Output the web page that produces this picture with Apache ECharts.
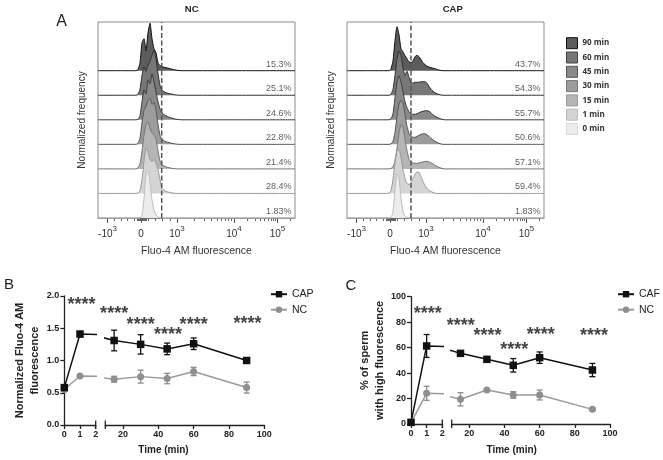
<!DOCTYPE html>
<html><head><meta charset="utf-8">
<script src="https://cdn.jsdelivr.net/npm/echarts@6/dist/echarts.min.js"></script>
<style>html,body{margin:0;padding:0;background:#fff}#main{width:663px;height:460px}</style>
</head><body><div id="main"></div>
<script>
// ---------------- Panel A: offset histograms ----------------
const rowNames = ['90 min','60 min','45 min','30 min','15 min','1 min','0 min'];
const histX = [0,38,40,42,44,46,48,50,52,54,56,58,60,62,64,66,68,70,72,74,76,78,80,82,84,86,88,90,92,94,96,98,100,197];
const nc90  = [0,0,1,8,28,32,20,38,47.5,32, 22,18,8,5,4,3.5,3,2.5,2,1.5, 1,0.6,0.3,0.1,0,0,0,0,0,0, 0,0,0,0];
const nc60  = [0,0,1,6,20,28,24,30,34,40, 45,36,22,10,5,3.5,2.5,2,1.5,1, 0.6,0.3,0.1,0,0,0,0,0,0,0, 0,0,0,0];
const nc45  = [0,0,0.5,4,18,30,26,40,36,46, 38,28,18,11,7,5,4,3,2.2,1.6, 1,0.6,0.3,0.1,0,0,0,0,0,0, 0,0,0,0];
const nc30  = [0,0,1,6,22,34,38,44,46,40, 42,34,20,9,5,3.5,2.5,2,1.5,1, 0.6,0.3,0.1,0,0,0,0,0,0,0, 0,0,0,0];
const nc15  = [0,0,1,5,18,34,44,47,40,36, 34,30,18,8,4,3,2,1.5,1,0.6, 0.3,0.1,0,0,0,0,0,0,0,0, 0,0,0,0];
const nc1   = [0,0,0.5,3,14,32,45,42,34,32, 34,30,24,14,5,3,2,1.4,1,0.5, 0.2,0,0,0,0,0,0,0,0,0, 0,0,0,0];
const nc0   = [0,0,0,0,3,20,44,47,36,18, 8,3,1,0.3,0,0,0,0,0,0, 0,0,0,0,0,0,0,0,0,0, 0,0,0,0];
const cap90 = [0,0,0,0,2,10,30,44,36,22, 19,15,12,9,8,10,14,15.5,14,11, 8,6,4.5,3.5,3,2.5,2,1.2,0.6,0.2, 0,0,0,0];
const cap60 = [0,0,0,0,1,6,20,36,44,40, 28,20,24,18,13,12,13,13,13,13.5, 13.5,13.5,12,9,6,4,2.5,1.5,0.8,0.3, 0,0,0,0];
const cap45 = [0,0,0,0,1,6,22,38,44,38, 28,18,12,8,6,5.5,5.5,6,7,8, 8.5,9,9,8.5,7,5,3.5,2.5,1.5,0.8, 0.3,0,0,0];
const cap30 = [0,0,0,0,0.5,3,12,28,40,44, 42,30,18,11,8,7,7,8,9,10, 10.5,10.5,9.5,8,6,4.5,3,2,1,0.4, 0,0,0,0];
const cap15 = [0,0,0,0,0.5,2,8,20,36,44, 42,30,18,10,7,6,5.5,5.5,6,6.5, 7,7.5,7.5,7,6,5,3.5,2.5,1.5,0.8, 0.3,0,0,0];
const cap1  = [0,0,0,0.5,3,14,32,43,44,36, 24,15,10,9,11,15,19,21.5,21,17, 12,8,5,3,1.8,1,0.4,0,0,0, 0,0,0,0];
const cap0  = [0,0,0,0,0.5,6,28,44,40,20, 6,2,0.6,0.2,0,0,0,0,0,0, 0,0,0,0,0,0,0,0,0,0, 0,0,0,0];
const ncPct  = ['15.3%','25.1%','24.6%','22.8%','21.4%','28.4%','1.83%'];
const capPct = ['43.7%','54.3%','55.7%','50.6%','57.1%','59.4%','1.83%'];
const gateX = [63.7, 64];
const histTickPos  = [9.5, 43, 79, 136, 179.5];
const histTickBase = ['-10','0','10','10','10'];
const histTickExp  = ['3','','3','4','5'];

// ---------------- Panels B & C ----------------
const timeMin = [0,1,15,30,45,60,90];
const bCap    = [0.58,1.41,1.31,1.25,1.18,1.26,1.00];
const bCapErr = [0.03,0.04,0.16,0.15,0.09,0.09,0.02];
const bNc     = [0.55,0.76,0.71,0.75,0.72,0.83,0.58];
const bNcErr  = [0.03,0.02,0.045,0.10,0.08,0.065,0.085];
const cCaf    = [1.3,61.3,55.5,50.8,46.1,52.1,42.4];
const cCafErr = [1.5,9,2.1,1,5.3,4.5,5.2];
const cNc     = [1,24.1,19.4,26.7,22.8,22.8,11.5];
const cNcErr  = [0.8,5.5,5.2,1,2.6,3.9,1];
const bStarX = [1.1,15,30,45.5,60,90.5];
const bStarY = [1.86,1.72,1.55,1.39,1.55,1.56];
const cStarX = [1.07,15.2,30.3,45.5,60.6,90.9];
const cStarY = [86.3,76.6,68.8,57.8,70,68.8];
const seg2Ticks = [20,40,60,80,100];

// ---------------- build ----------------
const FONT = 'Arial, "Liberation Sans", Helvetica, sans-serif';
const fillCols = ['#5c5c5c','#777777','#898989','#9c9c9c','#b5b5b5','#d4d4d4','#ececec'];
const lineCols = ['#111111','#2e2e2e','#3a3a3a','#555555','#747474','#999999','#bdbdbd'];
const legBorder = ['#111','#444','#555','#777','#999','#bbb','#d8d8d8'];

const grid=[], xAxis=[], yAxis=[], series=[];
function G(o){grid.push(o);return grid.length-1;}
function X(g,o){o.gridIndex=g;xAxis.push(o);return xAxis.length-1;}
function Y(g,o){o.gridIndex=g;yAxis.push(o);return yAxis.length-1;}
function hiddenAxis(min,max){return {type:'value',min:min,max:max,show:false,splitLine:{show:false}};}

const minorTicks = [];
[200,400,600,800].forEach(v=>{minorTicks.push(43-33.5*v/1000, 43+36*v/1000);});
for(let k=2;k<=9;k++){minorTicks.push(79+57*Math.log10(k), 136+43.5*Math.log10(k));}
minorTicks.push(179.5+43.5*Math.log10(2));
for(let u=39;u<=48;u+=1) minorTicks.push(u);

const panelLeft=[98,347], pTop=22, pW=197, pH=196, rowStep=24.55, rowH=48;
const panelRows=[[nc90,nc60,nc45,nc30,nc15,nc1,nc0],[cap90,cap60,cap45,cap30,cap15,cap1,cap0]];
const panelPct=[ncPct,capPct];

for(let p=0;p<2;p++){
  const fg = G({left:panelLeft[p], top:pTop, width:pW, height:pH, show:true, borderColor:'#8c8c8c', borderWidth:1, backgroundColor:'rgba(0,0,0,0)'});
  const fxa = X(fg,{type:'value',min:0,max:pW,position:'bottom',
    axisLine:{show:true,lineStyle:{color:'#808080',width:1}},
    axisTick:{show:true,customValues:histTickPos,length:5,lineStyle:{color:'#555'}},
    axisLabel:{show:true,customValues:histTickPos,margin:7,fontSize:10,lineHeight:14,
      formatter:function(v){let bi=0,bd=1e9;histTickPos.forEach((t,i)=>{if(Math.abs(t-v)<bd){bd=Math.abs(t-v);bi=i;}});
        return histTickExp[bi]?('{b|'+histTickBase[bi]+'}{s|'+histTickExp[bi]+'}'):('{b|'+histTickBase[bi]+'}');},
      rich:{b:{fontSize:10,color:'#333',fontFamily:FONT,verticalAlign:'bottom',lineHeight:14},
            s:{fontSize:8,color:'#333',fontFamily:FONT,verticalAlign:'top',lineHeight:14}}},
    splitLine:{show:false},
    name:'Fluo-4 AM fluorescence',nameLocation:'middle',nameGap:28,
    nameTextStyle:{fontSize:10.5,color:'#333',fontFamily:FONT}});
  X(fg,{type:'value',min:0,max:pW,position:'bottom',axisLine:{show:false},
    axisTick:{show:true,customValues:minorTicks,length:3,lineStyle:{color:'#666'}},
    axisLabel:{show:false},splitLine:{show:false}});
  const fy = Y(fg,{type:'value',min:0,max:1,axisLine:{show:false},axisTick:{show:false},axisLabel:{show:false},splitLine:{show:false},
    name:'Normalized frequency',nameLocation:'middle',nameGap:11,
    nameTextStyle:{fontSize:10,color:'#333',fontFamily:FONT}});
  panelRows[p].forEach((vals,i)=>{
    const base = pTop + pH - (6-i)*rowStep;
    const g = G({left:panelLeft[p], top:base-rowH, width:pW, height:rowH});
    const xi = X(g,hiddenAxis(0,pW)), yi = Y(g,hiddenAxis(0,rowH));
    series.push({type:'line',name:rowNames[i],xAxisIndex:xi,yAxisIndex:yi,
      data:histX.map((x,k)=>[x,vals[k]]),symbol:'none',smooth:0.2,clip:false,silent:true,
      lineStyle:{color:lineCols[i],width:1},areaStyle:{color:fillCols[i],opacity:1},itemStyle:{color:fillCols[i]}});
    series.push({type:'scatter',xAxisIndex:xi,yAxisIndex:yi,data:[[pW-3.5,6.5]],symbolSize:0,silent:true,z:6,
      label:{show:true,position:'left',distance:0,formatter:panelPct[p][i],fontSize:9,color:'#333',fontFamily:FONT}});
  });
  series.push({type:'line',xAxisIndex:fxa,yAxisIndex:fy,data:[[gateX[p],0],[gateX[p],1]],symbol:'none',silent:true,z:5,clip:false,
    lineStyle:{color:'#555',type:[5,2.5],width:1.5}});
}

const bcCfg = [
  {seg:[[64.3,31.4],[105.3,159]], top:296, h:129, ymax:2, yint:0.5, yfmt:v=>v.toFixed(1),
   name:'Normalized Fluo-4 AM\nfluorescence', nameGap:20,
   groups:[['NC',bNc,bNcErr],['CAP',bCap,bCapErr]], starX:bStarX, starY:bStarY},
  {seg:[[411,31.3],[451.7,158.3]], top:296.7, h:127.3, ymax:100, yint:20, yfmt:v=>String(v),
   name:'% of sperm\nwith high fluorescence', nameGap:21,
   groups:[['NC',cNc,cNcErr],['CAF',cCaf,cCafErr]], starX:cStarX, starY:cStarY}
];
const axLine={lineStyle:{color:'#222',width:1.3}};
const axTick={length:4,lineStyle:{color:'#222',width:1.3}};
const axLab={fontSize:9,fontWeight:'bold',color:'#222',fontFamily:FONT,margin:5};

function errRender(color){
  return function(params,api){
    const x=api.value(0), lo=api.value(1), hi=api.value(2);
    const p1=api.coord([x,lo]), p2=api.coord([x,hi]); const w=3;
    const st={stroke:color,lineWidth:1.3};
    return {type:'group',children:[
      {type:'line',shape:{x1:p1[0],y1:p1[1],x2:p2[0],y2:p2[1]},style:st},
      {type:'line',shape:{x1:p1[0]-w,y1:p1[1],x2:p1[0]+w,y2:p1[1]},style:st},
      {type:'line',shape:{x1:p2[0]-w,y1:p2[1],x2:p2[0]+w,y2:p2[1]},style:st}]};
  };
}

bcCfg.forEach(cfg=>{
  for(let s=0;s<2;s++){
    const g = G({left:cfg.seg[s][0],top:cfg.top,width:cfg.seg[s][1],height:cfg.h});
    const xi = X(g, s===0 ?
      {type:'value',min:0,max:2,interval:1,axisLine:axLine,axisTick:axTick,axisLabel:axLab,splitLine:{show:false}} :
      {type:'value',min:10,max:100,axisLine:axLine,axisTick:Object.assign({customValues:seg2Ticks},axTick),
        axisLabel:Object.assign({customValues:seg2Ticks},axLab),splitLine:{show:false}});
    const yi = Y(g, s===0 ?
      {type:'value',min:0,max:cfg.ymax,interval:cfg.yint,axisLine:axLine,axisTick:axTick,
        axisLabel:Object.assign({formatter:cfg.yfmt},axLab),splitLine:{show:false},
        name:cfg.name,nameLocation:'middle',nameGap:cfg.nameGap,
        nameTextStyle:{fontSize:11,fontWeight:'bold',color:'#222',fontFamily:FONT,lineHeight:15}} :
      hiddenAxis(0,cfg.ymax));
    const inSeg = t => s===0 ? t<=2 : t>=10;
    cfg.groups.forEach(([name,vals,errs],gi)=>{
      const dark = gi===1;
      const col = dark ? '#111' : '#9a9a9a';
      series.push({type:'custom',xAxisIndex:xi,yAxisIndex:yi,silent:true,z:3,
        data:timeMin.map((t,k)=>[t,vals[k]-errs[k],vals[k]+errs[k]]).filter(d=>inSeg(d[0])),
        renderItem:errRender(dark?'#111':'#8c8c8c')});
      series.push({type:'line',name:name,xAxisIndex:xi,yAxisIndex:yi,clip:true,z:4,
        data:timeMin.map((t,k)=>[t,vals[k]]),
        symbol:dark?'rect':'circle',symbolSize:dark?7.5:7,showSymbol:true,
        lineStyle:{color:col,width:1.5},itemStyle:{color:dark?'#111':'#8f8f8f'}});
    });
    series.push({type:'scatter',xAxisIndex:xi,yAxisIndex:yi,symbolSize:0,silent:true,z:6,clip:false,
      data:cfg.starX.map((x,k)=>[x,cfg.starY[k]]).filter(d=>inSeg(d[0])),
      label:{show:true,position:'inside',formatter:'****',fontSize:18,fontWeight:'bold',color:'#111',fontFamily:FONT}});
  }
});

const texts = [
  ['A',61.5,21.5,16,'normal'],['NC',191.7,9.3,9.5,'bold'],['CAP',452.7,9.3,9.5,'bold'],
  ['B',9,285,15,'normal'],['C',351,286,15,'normal'],
  ['Time (min)',163.5,450,10,'bold'],['Time (min)',511.7,450,10,'bold']
];
const graphic = texts.map(t=>({type:'text',x:t[1],y:t[2],silent:true,
  style:{text:t[0],fill:'#222',font:t[4]+' '+t[3]+'px '+FONT,textAlign:'center',textVerticalAlign:'middle'}}));
[[95.7,420.5,429],[105.3,420.5,429],[442.3,419.5,428],[451.7,419.5,428]].forEach(b=>{
  graphic.push({type:'line',silent:true,shape:{x1:b[0],y1:b[1],x2:b[0],y2:b[2]},style:{stroke:'#222',lineWidth:1.3}});
});

const option = {
  animation:false,
  backgroundColor:'#fff',
  textStyle:{fontFamily:FONT},
  grid:grid, xAxis:xAxis, yAxis:yAxis, series:series, graphic:graphic,
  legend:[
    {orient:'vertical',left:566,top:37.2,padding:0,itemWidth:11,itemHeight:11,itemGap:2.3,selectedMode:false,icon:'rect',
     textStyle:{fontSize:8,fontWeight:'bold',color:'#333',fontFamily:'"Open Sans", Arial, sans-serif'},
     data:rowNames.map((n,i)=>({name:n,icon:'rect',itemStyle:{color:fillCols[i],borderColor:legBorder[i],borderWidth:1}}))},
    {orient:'vertical',left:270,top:288.7,padding:0,itemWidth:16,itemHeight:8,itemGap:4.5,selectedMode:false,
     textStyle:{fontSize:10.5,color:'#222',fontFamily:FONT},data:['CAP','NC']},
    {orient:'vertical',left:617,top:288.7,padding:0,itemWidth:16,itemHeight:8,itemGap:4.5,selectedMode:false,
     textStyle:{fontSize:10.5,color:'#222',fontFamily:FONT},data:['CAF','NC']}
  ]
};
const chart = echarts.init(document.getElementById('main'),null,{renderer:'canvas'});
chart.setOption(option);
</script></body></html>
